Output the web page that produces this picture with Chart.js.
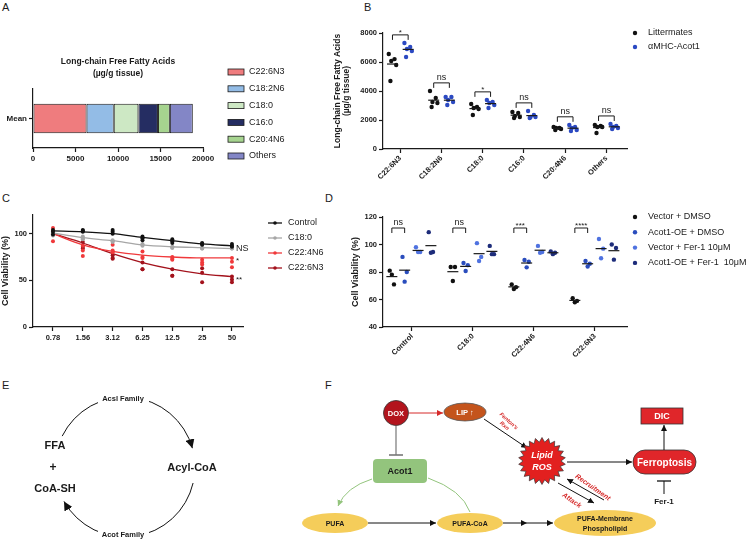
<!DOCTYPE html>
<html><head><meta charset="utf-8">
<script src="https://cdn.jsdelivr.net/npm/chart.js@4.4.1/dist/chart.umd.min.js"></script>
<style>
html,body{margin:0;padding:0;background:#fff}
body{width:749px;height:540px;position:relative;overflow:hidden;font-family:"Liberation Sans",Arial,sans-serif;color:#1a1a1a}
canvas{position:absolute}
.pl{position:absolute;font-size:11px;line-height:11px}
#diag{position:absolute;left:0;top:0}
</style></head><body>
<div class="pl" style="left:2px;top:2px">A</div>
<div class="pl" style="left:364px;top:2px">B</div>
<div class="pl" style="left:2px;top:193px">C</div>
<div class="pl" style="left:325px;top:193px">D</div>
<div class="pl" style="left:2px;top:380px">E</div>
<div class="pl" style="left:325px;top:380px">F</div>
<canvas id="cA" width="300" height="120" style="left:0;top:50px"></canvas>
<canvas id="cB" width="416" height="191" style="left:333px;top:10px"></canvas>
<canvas id="cC" width="330" height="150" style="left:0;top:195px"></canvas>
<canvas id="cD" width="399" height="170" style="left:350px;top:205px"></canvas>
<svg id="diag" width="749" height="540">
<defs>
 <marker id="mk" viewBox="0 0 10 10" refX="10" refY="5" markerUnits="userSpaceOnUse" markerWidth="6" markerHeight="6" orient="auto"><path d="M0,0L10,5L0,10z" fill="#111"/></marker>
 <marker id="mkBig" viewBox="0 0 10 10" refX="10" refY="5" markerUnits="userSpaceOnUse" markerWidth="9" markerHeight="9" orient="auto"><path d="M0,0L10,5L0,10z" fill="#111"/></marker>
 <marker id="mkR" viewBox="0 0 10 10" refX="10" refY="5" markerUnits="userSpaceOnUse" markerWidth="6" markerHeight="6" orient="auto"><path d="M0,0L10,5L0,10z" fill="#d62a2a"/></marker>
 <marker id="mkG" viewBox="0 0 10 10" refX="10" refY="5" markerUnits="userSpaceOnUse" markerWidth="6" markerHeight="6" orient="auto"><path d="M0,0L10,5L0,10z" fill="#93c47d"/></marker>
</defs>
<g font-family="Liberation Sans, Arial, sans-serif" font-weight="bold" text-anchor="middle" dominant-baseline="central" fill="#1a1a1a">
 <!-- E -->
 <path d="M62.2,436.1 A70,70 0 0 1 192.4,448.2" fill="none" stroke="#111" stroke-width="1" marker-end="url(#mkBig)"/>
 <path d="M193.1,483 A70,70 0 0 1 64,501.4" fill="none" stroke="#111" stroke-width="1" marker-end="url(#mkBig)"/>
 <rect x="98" y="393" width="51" height="10" fill="#fff"/>
 <text x="123" y="398" font-size="7.5">Acsl Family</text>
 <rect x="98" y="529" width="51" height="10" fill="#fff"/>
 <text x="123" y="534" font-size="7.5">Acot Family</text>
 <text x="55" y="445" font-size="11">FFA</text>
 <text x="53" y="467" font-size="12">+</text>
 <text x="55" y="488" font-size="11">CoA-SH</text>
 <text x="192" y="467" font-size="11">Acyl-CoA</text>
 <!-- F -->
 <line x1="409" y1="413" x2="443" y2="413" stroke="#d62a2a" stroke-width="1" marker-end="url(#mkR)"/>
 <circle cx="396" cy="413" r="12.5" fill="#b3141d" stroke="#333" stroke-width="0.8"/>
 <text x="396" y="413" font-size="7.5" fill="#fff">DOX</text>
 <line x1="396" y1="426" x2="396" y2="455" stroke="#777" stroke-width="1.2"/>
 <line x1="389" y1="455" x2="403" y2="455" stroke="#777" stroke-width="1.6"/>
 <ellipse cx="465" cy="412" rx="21" ry="9" fill="#c4541c" stroke="#555" stroke-width="0.8"/>
 <text x="465" y="412" font-size="7.5" fill="#fff">LIP ↑</text>
 <line x1="484" y1="419" x2="527" y2="448" stroke="#111" stroke-width="1" marker-end="url(#mk)"/>
 <text transform="translate(507,423) rotate(42)" font-size="5.5" fill="#d62a2a" font-style="italic"><tspan x="0" y="-3">Fenton's</tspan><tspan x="0" y="3.5">Rxn</tspan></text>
 <polygon id="star" points="" fill="#e2201f" stroke="#333" stroke-width="0.7"/>
 <text x="542" y="455" font-size="9" fill="#fff" font-style="italic">Lipid</text>
 <text x="542" y="467" font-size="9" fill="#fff" font-style="italic">ROS</text>
 <line x1="567" y1="462" x2="632" y2="462" stroke="#111" stroke-width="1" marker-end="url(#mk)"/>
 <rect x="633" y="450" width="63" height="24" rx="12" fill="#e0262a" stroke="#333" stroke-width="0.8"/>
 <text x="664.5" y="462" font-size="10" fill="#fff">Ferroptosis</text>
 <line x1="664" y1="450" x2="664" y2="425" stroke="#111" stroke-width="1" marker-end="url(#mk)"/>
 <rect x="641" y="408" width="42" height="16" fill="#e0262a" stroke="#333" stroke-width="0.8"/>
 <text x="662" y="416" font-size="9" fill="#fff">DIC</text>
 <line x1="664" y1="494" x2="664" y2="481" stroke="#111" stroke-width="1"/>
 <line x1="657" y1="481" x2="671" y2="481" stroke="#111" stroke-width="1.3"/>
 <text x="664" y="501" font-size="8">Fer-1</text>
 <path d="M372,479 Q346,487 338,506" fill="none" stroke="#93c47d" stroke-width="1" marker-end="url(#mkG)"/>
 <path d="M428,478 Q462,490 470,512" fill="none" stroke="#93c47d" stroke-width="1"/>
 <rect x="373" y="459" width="54" height="24" rx="4" fill="#93c47d"/>
 <text x="400" y="471" font-size="9">Acot1</text>
 <line x1="368" y1="523" x2="436" y2="523" stroke="#111" stroke-width="1" marker-end="url(#mk)"/>
 <line x1="503" y1="523" x2="527" y2="523" stroke="#111" stroke-width="1" marker-end="url(#mk)"/>
 <line x1="527" y1="523" x2="553" y2="523" stroke="#111" stroke-width="1" marker-end="url(#mk)"/>
 <ellipse cx="335" cy="523" rx="33" ry="10" fill="#f5cd5a"/>
 <text x="335" y="523" font-size="7">PUFA</text>
 <ellipse cx="470" cy="523" rx="33" ry="10" fill="#f5cd5a"/>
 <text x="470" y="523" font-size="7">PUFA-CoA</text>
 <ellipse cx="605" cy="523" rx="51" ry="13" fill="#f5cd5a"/>
 <text x="605" y="518" font-size="7">PUFA-Membrane</text>
 <text x="605" y="528" font-size="7">Phospholipid</text>
 <line x1="558" y1="483" x2="594" y2="503" stroke="#111" stroke-width="1" marker-end="url(#mk)"/>
 <line x1="604" y1="500" x2="567" y2="479" stroke="#111" stroke-width="1" marker-end="url(#mk)"/>
 <text transform="translate(593,487) rotate(35)" font-size="7" fill="#d62a2a" font-style="italic">Recruitment</text>
 <text transform="translate(572,500) rotate(35)" font-size="7" fill="#d62a2a" font-style="italic">Attack</text>
</g>
</svg>
<script>
// ---------- DATA ----------
// Panel A
const faNames = ['C22:6N3','C18:2N6','C18:0','C16:0','C20:4N6','Others'];
const faMeanA = [6300, 3200, 2900, 2300, 1400, 2700];
const faColors = ['#ef7c7e','#93bce6','#cde8c4','#252d62','#a6d48f','#8386c6'];
const ticksA = [0, 5000, 10000, 15000, 20000];
const titleA = ['Long-chain Free Fatty Acids','(µg/g tissue)'];
// Panel B
const groupsB = ['Littermates','αMHC-Acot1'];
const littermates = [
  [6550,6200,6070,5790,4690],
  [4000,3520,3240,3170,2900],
  [3100,2900,2830,2760,2340],
  [2550,2480,2280,2210,2140],
  [1520,1450,1450,1380,1310],
  [1660,1590,1520,1520,1100]];
const acot1Tg = [
  [7310,7030,6900,6760,6340],
  [3590,3590,3380,3240,3030],
  [3380,3240,3170,3030,2830],
  [2620,2340,2210,2210,2140],
  [1660,1520,1450,1310,1240],
  [1720,1590,1520,1450,1380]];
const sigB = ['*','ns','*','ns','ns','ns'];
const ticksBy = [0,2000,4000,6000,8000];
// Panel C
const concLabels = ['0.78','1.56','3.12','6.25','12.5','25','50'];
const seriesC = ['Control','C18:0','C22:4N6','C22:6N3'];
const fitControl = [103,102,100,96,92.5,89,87];
const fitC18 = [100.7,95.7,92.5,88,86,85,84];
const fitC224 = [100,88,81,77,75,74,74];
const fitC226 = [100,90,78.5,69,62,57,54];
const repControl = [[104,102,99],[104,103,102],[104,102,100],[97,95,93],[94,92,90],[90,89,88],[89,87,86]];
const repC18 = [[101,100,98],[97,95,94],[93,92,91],[89,88,87],[86,85,85],[85,84,84],[85,84,84]];
const repC224 = [[106,100,92],[87,82,76],[88,82,80],[81,75,74],[75,73,72],[72,69,67],[74,70,64]];
const repC226 = [[102,100,99],[91,86,84],[77,74,73],[69,62,62],[62,55,55],[63,58,48],[54,51,48]];
const sigC = ['','NS','*','**'];
const ticksCy = [0,50,100];
// Panel D
const dCategories = ['Control','C18:0','C22:4N6','C22:6N3'];
const dGroups = ['Vector + DMSO','Acot1-OE + DMSO','Vector + Fer-1 10μM','Acot1-OE + Fer-1  10μM'];
const vecDMSO = [[81,71,78],[83.6,83.6,73.5],[71,69,67.6],[61,59,58]];
const oeDMSO  = [[91,80,73],[86.5,85,80.7],[88.7,87.5,83.4],[88,86,84]];
const vecFer  = [[98,94.5,94.5],[101,91,88],[99,94.5,94],[104,97,90]];
const oeFer   = [[109,94.5,94],[99,93,93],[95,94,93],[100,97.5,89]];
const sigD = ['ns','ns','***','****'];
const bracketD = 112;

// ---------- STYLE / HELPERS ----------
const FF = "'Liberation Sans', Arial, sans-serif";
const INK = '#1a1a1a';
Chart.defaults.font.family = FF;
Chart.defaults.color = INK;
const tickFont = s => ({size:s, weight:'bold', family:FF});
const fixBox = (w,h) => s => { if(w!=null) s.width=w; if(h!=null) s.height=h; s.paddingLeft=0; s.paddingRight=0; s.paddingTop=0; s.paddingBottom=0; };
const axisGrid = {drawOnChartArea:false, drawTicks:true, tickLength:4, tickColor:INK, tickWidth:1.2};
const axisBorder = {display:true, color:INK, width:1.2};
const mean = a => a.reduce((s,v)=>s+v,0)/a.length;
const base = {responsive:false, animation:false, devicePixelRatio:1, events:[]};

function legendPlugin(id, names, colors, kind, x, y, dy, tx, fs){
  return {id, afterDraw(chart){
    const c = chart.ctx; c.save();
    c.font = fs+'px '+FF; c.textBaseline='middle'; c.textAlign='left';
    names.forEach((n,i)=>{
      const yy = y + i*dy;
      if(kind==='box'){ c.fillStyle=colors[i]; c.fillRect(x,yy-3,16,6); c.strokeStyle=INK; c.lineWidth=0.8; c.strokeRect(x,yy-3,16,6); }
      else if(kind==='dot'){ c.fillStyle=colors[i]; c.beginPath(); c.arc(x,yy,2.2,0,Math.PI*2); c.fill(); }
      else { c.strokeStyle=colors[i]; c.lineWidth=1.3; c.beginPath(); c.moveTo(x-7,yy); c.lineTo(x+7,yy); c.stroke(); c.fillStyle=colors[i]; c.beginPath(); c.arc(x,yy,1.8,0,Math.PI*2); c.fill(); }
      c.fillStyle=INK; c.fillText(n, tx, yy);
    });
    c.restore();
  }};
}
function drawBracket(c, x1, x2, y, label){
  c.save(); c.strokeStyle=INK; c.lineWidth=1; c.beginPath();
  c.moveTo(x1,y+5); c.lineTo(x1,y); c.lineTo(x2,y); c.lineTo(x2,y+5); c.stroke();
  c.fillStyle=INK; c.textAlign='center'; c.textBaseline='bottom';
  c.font = (label.indexOf('*')>=0 ? '8px ' : '9px ')+FF;
  c.fillText(label,(x1+x2)/2, label.indexOf('*')>=0 ? y+2 : y-1);
  c.restore();
}

// ---------- PANEL A ----------
new Chart(document.getElementById('cA'), {
  type:'bar',
  data:{labels:['Mean'], datasets: faNames.map((n,i)=>({label:n, data:[faMeanA[i]], backgroundColor:faColors[i], borderColor:INK, borderWidth:1, borderSkipped:false, barPercentage:0.5, categoryPercentage:1}))},
  options:{...base, indexAxis:'y',
    layout:{padding:{left:0, top:39, right:97, bottom:0}},
    plugins:{legend:{display:false}, tooltip:{enabled:false}},
    scales:{
      x:{type:'linear', stacked:true, min:0, max:20000,
         afterBuildTicks:s=>{s.ticks=ticksA.map(v=>({value:v}));},
         ticks:{font:tickFont(8), color:INK, padding:2, callback:v=>String(v), maxRotation:0, autoSkip:false},
         grid:axisGrid, border:axisBorder, afterFit:fixBox(null,22)},
      y:{type:'category', stacked:true, ticks:{font:tickFont(8), color:INK, padding:2},
         grid:{...axisGrid, offset:false}, border:axisBorder, afterFit:fixBox(33,null)}
    }},
  plugins:[
    {id:'titleA', afterDraw(chart){ const c=chart.ctx, a=chart.chartArea; c.save(); c.font='bold 8.5px '+FF; c.fillStyle=INK; c.textAlign='center'; c.textBaseline='middle';
      titleA.forEach((t,i)=>c.fillText(t,(a.left+a.right)/2, 12+i*12)); c.restore(); }},
    legendPlugin('lgA', faNames, faColors, 'box', 228, 22, 16.8, 249, 9)
  ]
});

// ---------- PANEL B ----------
const offB = [-0.19, 0.19];
const jitB = [-0.09, 0.05, -0.03, 0.09, -0.05];
const seriesB = [littermates, acot1Tg];
const colorsB = ['#111111','#2b49c2'];
new Chart(document.getElementById('cB'), {
  type:'scatter',
  data:{datasets: seriesB.flatMap((ser,g)=>[
    {label:groupsB[g], data: ser.flatMap((vals,i)=>vals.map((v,j)=>({x:i+offB[g]+jitB[j], y:v}))), backgroundColor:colorsB[g], borderWidth:0, pointRadius:2.2, order:2},
    {label:groupsB[g]+' mean', data: ser.map((vals,i)=>({x:i+offB[g], y:mean(vals)})), pointStyle:'line', pointRadius:5.5, borderColor:INK, borderWidth:1.2, order:1}
  ])},
  options:{...base,
    layout:{padding:{left:0, top:23, right:122, bottom:0}},
    plugins:{legend:{display:false}, tooltip:{enabled:false}},
    scales:{
      x:{type:'linear', min:-0.42, max:5.5,
         afterBuildTicks:s=>{s.ticks=faNames.map((_,i)=>({value:i}));},
         ticks:{font:tickFont(7.5), color:INK, padding:1, autoSkip:false, minRotation:45, maxRotation:45, callback:v=>faNames[v]},
         grid:axisGrid, border:axisBorder, afterFit:fixBox(null,52)},
      y:{min:0, max:8000,
         afterBuildTicks:s=>{s.ticks=ticksBy.map(v=>({value:v}));},
         ticks:{font:tickFont(7.5), color:INK, padding:2, callback:v=>String(v)},
         title:{display:true, text:titleA, font:{size:8.5, weight:'bold', family:FF, lineHeight:1.05}, color:INK, padding:0},
         grid:axisGrid, border:axisBorder, afterFit:fixBox(50,null)}
    }},
  plugins:[
    {id:'brB', afterDraw(chart){ const xs=chart.scales.x, ys=chart.scales.y, c=chart.ctx;
      faNames.forEach((_,i)=>{ const top=Math.max(...littermates[i],...acot1Tg[i])+560;
        drawBracket(c, xs.getPixelForValue(i+offB[0]), xs.getPixelForValue(i+offB[1]), ys.getPixelForValue(top), sigB[i]); }); }},
    legendPlugin('lgB', groupsB, colorsB, 'dot', 302, 23, 14, 315, 9)
  ]
});

// ---------- PANEL C ----------
const fitsC = [fitControl, fitC18, fitC224, fitC226];
const repsC = [repControl, repC18, repC224, repC226];
const colorsC = ['#111111','#a6a6a6','#f0393b','#a3121c'];
new Chart(document.getElementById('cC'), {
  type:'scatter',
  data:{datasets: seriesC.flatMap((n,s)=>[
    {type:'line', label:n+' fit', data: fitsC[s].map((v,i)=>({x:i,y:v})), borderColor:colorsC[s], borderWidth:1.3, pointRadius:0, fill:false, cubicInterpolationMode:'monotone', order:2},
    {label:n, data: repsC[s].flatMap((vals,i)=>vals.map(v=>({x:i,y:v}))), backgroundColor:colorsC[s], borderWidth:0, pointRadius:2, order:1}
  ])},
  options:{...base,
    layout:{padding:{left:0, top:20, right:87, bottom:0}},
    plugins:{legend:{display:false}, tooltip:{enabled:false}},
    scales:{
      x:{type:'linear', min:-0.67, max:6.37,
         afterBuildTicks:s=>{s.ticks=concLabels.map((_,i)=>({value:i}));},
         ticks:{font:tickFont(7.5), color:INK, padding:2, autoSkip:false, maxRotation:0, minRotation:0, callback:v=>concLabels[v]},
         grid:axisGrid, border:axisBorder, afterFit:fixBox(null,18)},
      y:{min:0, max:120,
         afterBuildTicks:s=>{s.ticks=ticksCy.map(v=>({value:v}));},
         ticks:{font:tickFont(7.5), color:INK, padding:2},
         title:{display:true, text:'Cell Viability (%)', font:{size:9, weight:'bold', family:FF}, color:INK, padding:0},
         grid:axisGrid, border:axisBorder, afterFit:fixBox(33,null)}
    }},
  plugins:[
    {id:'sigC', afterDraw(chart){ const xs=chart.scales.x, ys=chart.scales.y, c=chart.ctx; c.save(); c.fillStyle=INK; c.textAlign='left'; c.textBaseline='middle';
      sigC.forEach((l,s)=>{ if(!l) return; const star=l.indexOf('*')>=0; c.font=(star?'8px ':'9px ')+FF;
        c.fillText(l, xs.getPixelForValue(concLabels.length-1)+4, ys.getPixelForValue(fitsC[s][concLabels.length-1])+(star?3:0)); });
      c.restore(); }},
    legendPlugin('lgC', seriesC, colorsC, 'line', 275, 28, 15, 288, 9)
  ]
});

// ---------- PANEL D ----------
const seriesD = [vecDMSO, oeDMSO, vecFer, oeFer];
const colorsD = ['#111111','#2a4dbd','#4f72e0','#1d2c7a'];
const offD = [-0.33, -0.12, 0.1, 0.31];
const jitD = [-0.035, 0.035, 0];
new Chart(document.getElementById('cD'), {
  type:'scatter',
  data:{datasets: seriesD.flatMap((ser,g)=>[
    {label:dGroups[g], data: ser.flatMap((vals,i)=>vals.map((v,j)=>({x:i+offD[g]+jitD[j], y:v}))), backgroundColor:colorsD[g], borderWidth:0, pointRadius:2.2, order:2},
    {label:dGroups[g]+' mean', data: ser.map((vals,i)=>({x:i+offD[g], y:mean(vals)})), pointStyle:'line', pointRadius:5.5, borderColor:INK, borderWidth:1.2, order:1}
  ])},
  options:{...base,
    layout:{padding:{left:0, top:12, right:122, bottom:0}},
    plugins:{legend:{display:false}, tooltip:{enabled:false}},
    scales:{
      x:{type:'linear', min:-0.475, max:3.525,
         afterBuildTicks:s=>{s.ticks=dCategories.map((_,i)=>({value:i}));},
         ticks:{font:tickFont(7.5), color:INK, padding:1, autoSkip:false, minRotation:45, maxRotation:45, callback:v=>dCategories[v]},
         grid:axisGrid, border:axisBorder, afterFit:fixBox(null,48)},
      y:{min:40, max:120, ticks:{stepSize:20, font:tickFont(7.5), color:INK, padding:2},
         title:{display:true, text:'Cell Viability (%)', font:{size:9, weight:'bold', family:FF}, color:INK, padding:0},
         grid:axisGrid, border:axisBorder, afterFit:fixBox(33,null)}
    }},
  plugins:[
    {id:'brD', afterDraw(chart){ const xs=chart.scales.x, ys=chart.scales.y, c=chart.ctx;
      dCategories.forEach((_,i)=>drawBracket(c, xs.getPixelForValue(i+offD[0]), xs.getPixelForValue(i+offD[1]), ys.getPixelForValue(bracketD), sigD[i])); }},
    legendPlugin('lgD', dGroups, colorsD, 'dot', 285, 12, 15.3, 298, 9)
  ]
});

// star shape for the diagram
(function(){ const pts=[], N=22, cx=542, cy=461, ro=23.5, ri=19;
  for(let k=0;k<2*N;k++){ const r=k%2?ri:ro, a=Math.PI*k/N-Math.PI/2; pts.push((cx+r*Math.cos(a)).toFixed(1)+','+(cy+r*Math.sin(a)).toFixed(1)); }
  document.getElementById('star').setAttribute('points', pts.join(' ')); })();
</script>
</body></html>
